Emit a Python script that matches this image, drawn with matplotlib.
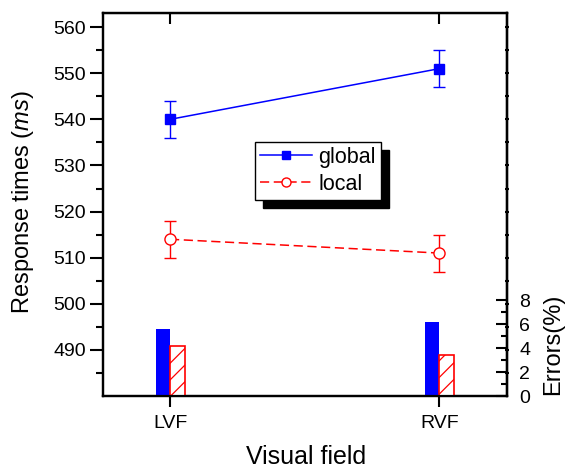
import matplotlib
matplotlib.use('Agg')
import matplotlib.pyplot as plt
from matplotlib.lines import Line2D
import numpy as np

plt.rcParams['font.family'] = ['Liberation Sans', 'DejaVu Sans']
plt.rcParams['mathtext.fontset'] = 'custom'
plt.rcParams['mathtext.rm'] = 'Liberation Sans'
plt.rcParams['mathtext.it'] = 'Liberation Sans:italic'
plt.rcParams['hatch.linewidth'] = 0.9

# data
fields = ['LVF', 'RVF']
global_rt = [540, 551]
global_sd = [4, 4]
local_rt = [514, 511]
local_sd = [4, 4]
global_errors = [5.6, 6.2]   # Errors (%)
local_errors = [4.2, 3.4]

x = np.arange(1, len(fields) + 1)
blue = '#0000ff'
red = '#ff0000'
dash = (0, (6, 3))

fig = plt.figure(figsize=(5.65, 4.7), dpi=100)
ax = fig.add_axes([0.1818, 0.1574, 0.7150, 0.8143])

# response times
ax.errorbar(x, global_rt, yerr=global_sd, color=blue, marker='s', ms=7.5,
            lw=1.1, elinewidth=1.0, capsize=4.5, capthick=1.0)
ax.errorbar(x, local_rt, yerr=local_sd, color=red, marker='o', ms=8,
            mfc='white', mec=red, lw=1.1, ls=dash,
            elinewidth=1.0, capsize=4.5, capthick=1.0)

ax.set_xlim(0.75, 2.25)
ax.set_ylim(480, 563)
ax.set_xticks(x)
ax.set_xticklabels(fields)
ax.set_yticks(np.arange(490, 561, 10))
ax.set_yticks(np.arange(485, 561, 5), minor=True)
ax.tick_params(axis='y', which='major', direction='out', length=9.5, width=1.5,
               labelsize=14, pad=2.5)
ax.tick_params(axis='y', which='minor', direction='out', length=5, width=1.5)
ax.tick_params(axis='x', which='major', direction='out', length=8, width=1.5,
               labelsize=14, pad=6)
for s in ax.spines.values():
    s.set_linewidth(1.6)

# top ticks point inward
sec_top = ax.secondary_xaxis('top')
sec_top.set_xticks(x)
sec_top.tick_params(direction='in', length=8, width=1.5, labeltop=False)

# small mirrored ticks on the right spine
sec_r = ax.secondary_yaxis('right')
sec_r.set_yticks(np.arange(490, 561, 10))
sec_r.set_yticks(np.arange(485, 561, 5), minor=True)
sec_r.tick_params(which='both', direction='inout', length=3, width=1.5,
                  labelright=False)
sec_r.spines['right'].set_linewidth(1.6)

ax.set_ylabel('Response times ($\\mathit{ms}$)', fontsize=17)
ax.yaxis.set_label_coords(-0.165, 0.507)
ax.set_xlabel('Visual field', fontsize=18)
ax.xaxis.set_label_coords(0.503, -0.128)

handles = [Line2D([], [], color=blue, marker='s', ms=6, lw=1.1),
           Line2D([], [], color=red, marker='o', ms=6.5, mfc='white',
                  mec=red, lw=1.1, ls=dash)]
leg = ax.legend(handles, ['global', 'local'], loc='upper left',
                bbox_to_anchor=(0.377, 0.6645),
                borderaxespad=0, fontsize=15.5, handlelength=2.4,
                fancybox=False, edgecolor='black',
                framealpha=1, borderpad=0.24, labelspacing=0.28,
                handletextpad=0.3,
                shadow={'color': 'black', 'alpha': 1, 'ox': 6, 'oy': -6})
leg.get_frame().set_linewidth(1.0)

# errors (%) on a twin axis
ax2 = ax.twinx()
w = 0.054
ax2.bar(x - w / 2, global_errors, width=w, color=blue, edgecolor='none')
ax2.bar(x + w / 2, local_errors, width=w, facecolor='white',
        edgecolor=red, hatch='//', linewidth=1.2)
ax2.set_ylim(0, 32)
ax2.set_yticks([0, 2, 4, 6, 8])
ax2.set_yticks([1, 3, 5, 7], minor=True)
ax2.tick_params(axis='y', which='major', direction='in', length=8, width=1.5,
                labelsize=14, pad=9)
ax2.tick_params(axis='y', which='minor', direction='in', length=4, width=1.5)
ax2.set_ylabel('Errors(%)', fontsize=17)
ax2.yaxis.set_label_coords(1.087, 0.136)
for s in ax2.spines.values():
    s.set_linewidth(1.6)

fig.savefig('out.png', dpi=100)
